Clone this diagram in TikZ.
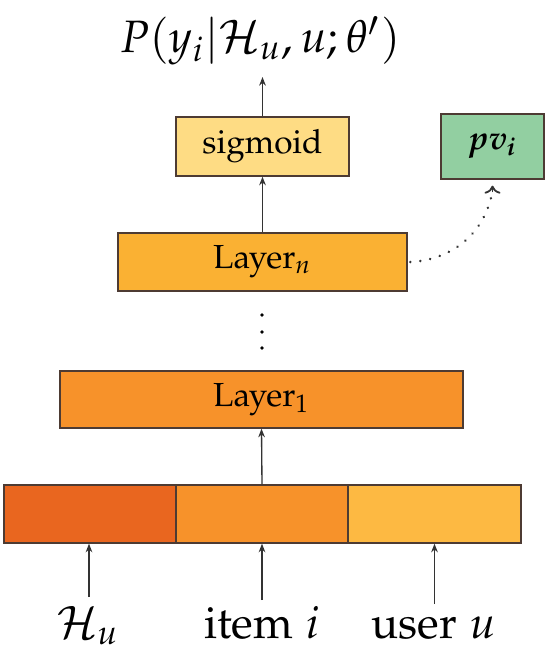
\documentclass[tikz,border=0pt]{standalone}
\usepackage[T1]{fontenc}
\usepackage[sc]{mathpazo}
\usepackage{bm}
\usetikzlibrary{arrows.meta}
\definecolor{hcol}{HTML}{E9661F}
\definecolor{icol}{HTML}{F7922A}
\definecolor{ucol}{HTML}{FDB942}
\definecolor{lncol}{HTML}{FAB133}
\definecolor{sigcol}{HTML}{FEDC84}
\definecolor{pvcol}{HTML}{92CFA1}
\definecolor{edgecol}{HTML}{4D3B33}
\definecolor{arrcol}{HTML}{333333}
\tikzset{
  box/.style={draw=edgecol, line width=0.4pt, inner sep=0pt, font=\fontsize{10}{12}\selectfont},
  arr/.style={draw=arrcol, line width=0.4pt, -{Stealth[length=2.6pt,width=2pt]}},
  lbl/.style={inner sep=0pt, font=\fontsize{13.5}{16}\selectfont},
}
\begin{document}
\begin{tikzpicture}[x=0.3pt,y=-0.3pt]
\useasboundingbox (0,0) rectangle (548,654);
% title
\node[inner sep=0pt, font=\fontsize{13.6}{16}\selectfont] (title) at (260,41) {$P(y_i|\mathcal{H}_u,u;\theta')$};
\coordinate (ttop) at (262.5,77);
% boxes
\node[box, fill=sigcol, minimum width=51.9pt, minimum height=17.7pt] (sig) at (262.5,146.5) {sigmoid};
\node[box, fill=pvcol, minimum width=30.9pt, minimum height=19.5pt] (pv) at (492.5,146.5) {$\bm{pv_i}$};
\node[box, fill=lncol, minimum width=86.7pt, minimum height=17.4pt] (ln) at (262.5,262) {Layer$_n$};
\node[box, fill=icol, minimum width=120.9pt, minimum height=17.1pt] (l1) at (261.5,399.5) {Layer$_1$};
\node[box, fill=hcol, minimum width=51.6pt, minimum height=17.4pt] (bh) at (90,514) {};
\node[box, fill=icol, minimum width=51.6pt, minimum height=17.4pt] (bi) at (262,514) {};
\node[box, fill=ucol, minimum width=51.9pt, minimum height=17.4pt] (bu) at (434.5,514) {};
% dots
\fill[black] (262,315) circle (1.8);
\fill[black] (262,332) circle (1.8);
\fill[black] (262,348) circle (1.8);
% bottom labels
\node[lbl, anchor=base] (hl) at (88,638) {$\mathcal{H}_u$};
\node[lbl, anchor=base] (il) at (262,638) {item $i$};
\node[lbl, anchor=base] (ul) at (434,638) {user $u$};
\coordinate (ha) at (89,597);
\coordinate (ia) at (262,600);
\coordinate (ua) at (434.5,604);
% arrows
\draw[arr] (sig.north) -- (ttop);
\draw[arr] (ln.north) -- (sig.south);
\draw[arr] (bi.north) -- (l1.south);
\draw[arr] (ha) -- (bh.south -| ha);
\draw[arr] (ia) -- (bi.south);
\draw[arr] (ua) -- (bu.south);
\draw[arrcol, dash pattern=on 0.01pt off 3pt, line cap=round, line width=0.8pt]
  ([xshift=0.8pt]ln.east) to[out=3, in=-100] ([yshift=-3.4pt]pv.south);
\draw[arrcol, line width=0.55pt, -{To[length=2.4pt,width=4.8pt]}] ([yshift=-3.8pt]pv.south) -- ([yshift=-1.8pt]pv.south);
\end{tikzpicture}
\end{document}
